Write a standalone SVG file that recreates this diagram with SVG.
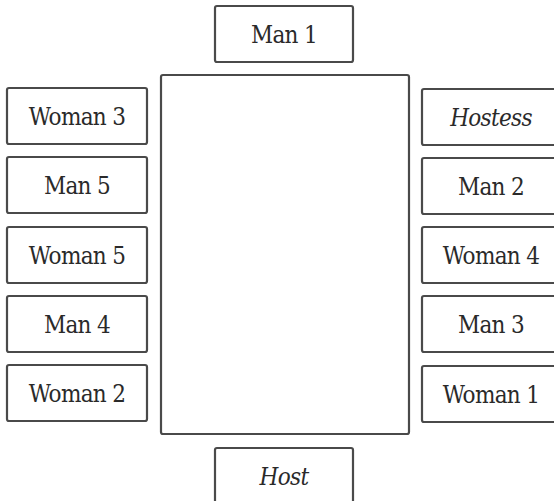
<svg xmlns="http://www.w3.org/2000/svg" width="554" height="501" viewBox="0 0 554 501">
<style>
.box{fill:#fff;stroke:#4a4a4a;stroke-width:2.2}
text{font-family:'DejaVu Serif Condensed','DejaVu Serif',serif;font-stretch:condensed;font-size:24px;fill:#2a2a2a;text-anchor:middle;letter-spacing:-0.7px}
.i{font-style:italic}
</style>
<rect width="554" height="501" fill="#fff"/>
<g id="table"><rect class="box" x="161" y="75" width="248" height="359" rx="2"/></g>
<g id="man1"><rect class="box" x="215" y="6" width="138" height="56" rx="2"/><text x="284" y="43">Man 1</text></g>
<g id="woman3"><rect class="box" x="7" y="88" width="140" height="56" rx="2"/><text x="77" y="125">Woman 3</text></g>
<g id="man5"><rect class="box" x="7" y="157" width="140" height="56" rx="2"/><text x="77" y="194">Man 5</text></g>
<g id="woman5"><rect class="box" x="7" y="227" width="140" height="56" rx="2"/><text x="77" y="264">Woman 5</text></g>
<g id="man4"><rect class="box" x="7" y="296" width="140" height="56" rx="2"/><text x="77" y="333">Man 4</text></g>
<g id="woman2"><rect class="box" x="7" y="365" width="140" height="56" rx="2"/><text x="77" y="402">Woman 2</text></g>
<g id="hostess"><rect class="box" x="422" y="89" width="140" height="56" rx="2"/><text class="i" x="491" y="126">Hostess</text></g>
<g id="man2"><rect class="box" x="422" y="158" width="140" height="56" rx="2"/><text x="491" y="195">Man 2</text></g>
<g id="woman4"><rect class="box" x="422" y="227" width="140" height="56" rx="2"/><text x="491" y="264">Woman 4</text></g>
<g id="man3"><rect class="box" x="422" y="296" width="140" height="56" rx="2"/><text x="491" y="333">Man 3</text></g>
<g id="woman1"><rect class="box" x="422" y="366" width="140" height="56" rx="2"/><text x="491" y="403">Woman 1</text></g>
<g id="host"><rect class="box" x="215" y="448" width="138" height="58" rx="2"/><text class="i" x="284" y="485">Host</text></g>
<g id="connectors"></g>
</svg>
